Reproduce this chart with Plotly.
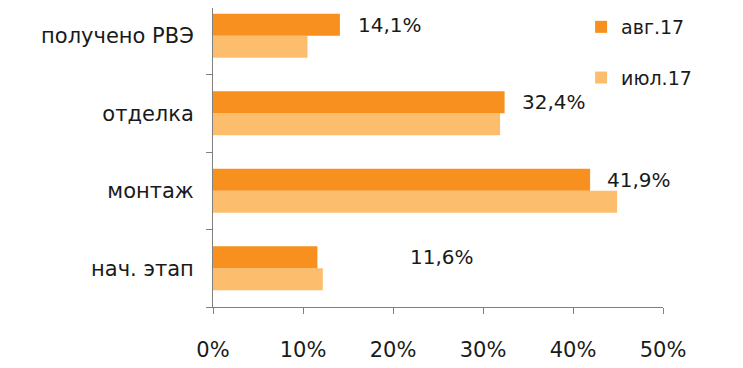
import plotly.graph_objects as go

categories = ["нач. этап", "монтаж", "отделка", "получено РВЭ"]
aug_values = [11.6, 41.9, 32.4, 14.1]
jul_values = [12.2, 44.9, 31.9, 10.5]
aug_labels = ["11,6%", "41,9%", "32,4%", "14,1%"]
label_shift = [91, 15, 15, 16]
series_names = ["авг.17", "июл.17"]
x_ticks = [0, 10, 20, 30, 40, 50]
x_tick_labels = ["0%", "10%", "20%", "30%", "40%", "50%"]

AUG_COLOR = "#F7901E"
JUL_COLOR = "#FCBD6C"
FONT = "DejaVu Sans, Verdana, sans-serif"

fig = go.Figure()
fig.add_trace(go.Bar(
    y=categories, x=jul_values, orientation="h", name=series_names[1],
    marker=dict(color=JUL_COLOR, line=dict(width=0)), legendgroup="b",
    legendrank=2,
))
fig.add_trace(go.Bar(
    y=categories, x=aug_values, orientation="h", name=series_names[0],
    marker=dict(color=AUG_COLOR, line=dict(width=0)), legendgroup="a",
    legendrank=1,
))

for cat, val, lab, sh in zip(categories, aug_values, aug_labels, label_shift):
    fig.add_annotation(
        x=val, y=cat, text=lab, showarrow=False, xanchor="left",
        xshift=sh, yshift=11, font=dict(size=20, color="#1a1a1a", family=FONT),
    )

# extend the value axis line up to the top edge, as in the original
fig.add_shape(type="line", xref="paper", yref="paper", x0=0, x1=0, y0=1, y1=1.03,
              line=dict(color="#808080", width=1))

fig.update_layout(
    width=743, height=368,
    margin=dict(l=205, r=88, t=0, b=69),
    paper_bgcolor="white", plot_bgcolor="white",
    barmode="group", bargap=0.43, bargroupgap=0,
    font=dict(family=FONT, size=19, color="#1a1a1a"),
    legend=dict(
        xref="paper", yref="paper", x=0.818, y=1.0,
        xanchor="left", yanchor="top", traceorder="grouped",
        tracegroupgap=23, itemwidth=30, font=dict(size=19, family=FONT),
        bgcolor="rgba(0,0,0,0)",
    ),
    xaxis=dict(
        range=[0, 50], tickvals=x_ticks, ticktext=x_tick_labels,
        showgrid=False, zeroline=False, showline=True, linecolor="#808080",
        linewidth=1, ticks="outside", ticklen=6, tickcolor="#808080",
        tickfont=dict(size=21), ticklabelstandoff=18, fixedrange=True,
    ),
    yaxis=dict(
        type="category", categoryorder="array", categoryarray=categories,
        range=[-0.5, 3.358], showgrid=False, showline=True, linecolor="#808080",
        linewidth=1, ticks="outside", ticklen=6, tickcolor="#808080",
        tickson="boundaries", tickfont=dict(size=21), ticklabelstandoff=14,
    ),
)

fig.write_html("out.html")
